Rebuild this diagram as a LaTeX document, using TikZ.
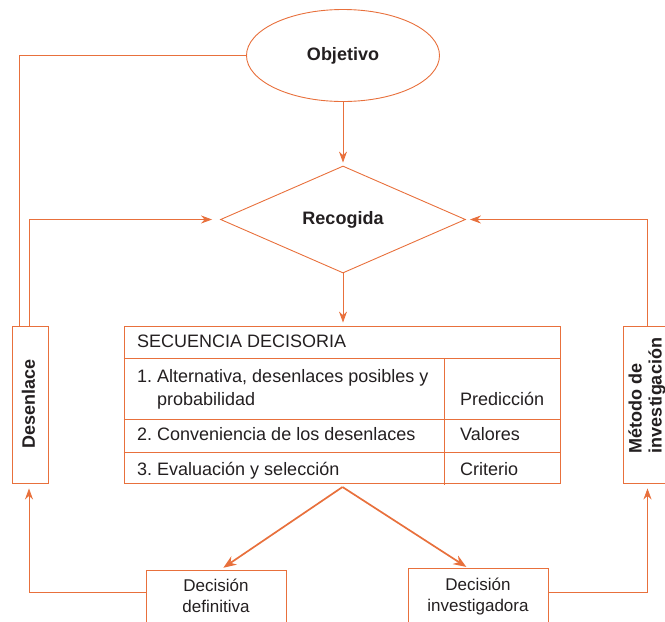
\documentclass[tikz,border=0pt]{standalone}
\usepackage{fontspec}
\setmainfont{Liberation Sans}
\frenchspacing
\usetikzlibrary{shapes.geometric,arrows.meta}
\definecolor{orangeline}{RGB}{232,112,60}
\definecolor{inkdark}{RGB}{35,31,32}
\newcommand{\tabfont}{\fontsize{18}{23}\selectfont}
\newcommand{\decfont}{\fontsize{17}{21}\selectfont}
\newcommand{\headfont}{\fontsize{18}{20}\selectfont\bfseries}
\tikzset{
  flow/.style={draw=orangeline, line width=0.8pt},
  arr/.style={flow, -{Stealth[length=11pt,width=8pt]}},
  fork/.style={draw=orangeline, line width=1.7pt, -{Stealth[length=13pt,width=10pt]}},
  box/.style={draw=orangeline, line width=0.9pt, inner sep=0pt},
  tabtext/.style={text=inkdark, font=\tabfont, inner sep=0pt, anchor=base west},
  dectext/.style={text=inkdark, font=\decfont, inner sep=0pt, align=center, anchor=base},
}
\begin{document}
\begin{tikzpicture}[x=1pt,y=-1pt]
\useasboundingbox (0,0) rectangle (665,622);
\clip (0,0) rectangle (665,622);
\node [box, ellipse, minimum width=193pt, minimum height=92pt, font=\headfont, text=inkdark] (obj) at (343,55.5) {Objetivo};
\node [box, diamond, minimum width=245pt, minimum height=107pt, font=\headfont, text=inkdark] (rec) at (343,219.5) {Recogida};
\node [box, minimum width=436pt, minimum height=157pt] (seq) at (342,404.5) {};
\node [box, minimum width=36pt, minimum height=157pt] (desen) at (30,404.5) {};
\node [font=\headfont, text=inkdark, rotate=90, inner sep=0pt] (desentext) at (28.5,404) {Desenlace};
\node [box, minimum width=49pt, minimum height=157pt] (met) at (647.5,404.5) {};
\node [font=\headfont, text=inkdark, rotate=90, align=left, inner sep=0pt] (mettext) at (647,395.5) {Método de\\investigación};
\node [box, minimum width=140pt, minimum height=70pt, anchor=north] (defbox) at (216,570) {};
\node [box, minimum width=140pt, minimum height=70pt, anchor=north] (invbox) at (478,568) {};
\node [dectext] (deftext) at (216,612) {Decisión\\definitiva};
\node [dectext] (invtext) at (478,611) {Decisión\\investigadora};
\draw [box] (seq.west |- 0,358) -- (seq.east |- 0,358);
\draw [box] (seq.west |- 0,419) -- (seq.east |- 0,419);
\draw [box] (seq.west |- 0,452) -- (seq.east |- 0,452);
\draw [box] (444,358) -- (444,485);
\node [tabtext] (head) at (137,347) {SECUENCIA DECISORIA};
\node [tabtext] (rowa) at (137,382) {1. Alternativa, desenlaces posibles y};
\node [tabtext] (rowb) at (157,405) {probabilidad};
\node [tabtext] (pred) at (460,405) {Predicción};
\node [tabtext] (rowc) at (137,440) {2. Conveniencia de los desenlaces};
\node [tabtext] (val) at (460,440) {Valores};
\node [tabtext] (rowd) at (137,475) {3. Evaluación y selección};
\node [tabtext] (crit) at (460,475) {Criterio};
\draw [arr, shorten >=3pt] (obj.south) -- (rec.north);
\draw [arr, shorten >=3pt] (rec.south) -- (rec.south |- seq.north);
\draw [flow] (obj.west) -| ([xshift=-11pt]desen.north);
\draw [arr, shorten >=8pt] ([xshift=-1pt]desen.north) |- (rec.west);
\draw [arr, shorten >=4pt] (met.north) |- (rec.east);
\coordinate (split) at (342.5,487);
\draw [fork, shorten >=4pt] (split) -- ([xshift=4pt]defbox.north);
\draw [fork, shorten >=2pt] (split) -- ([xshift=-10pt]invbox.north);
\draw [arr, shorten >=5pt] ([yshift=-22pt]defbox.north west) -| ([xshift=-1pt]desen.south);
\draw [arr, shorten >=5pt] ([yshift=-24pt]invbox.north east) -| (met.south);
\end{tikzpicture}
\end{document}
